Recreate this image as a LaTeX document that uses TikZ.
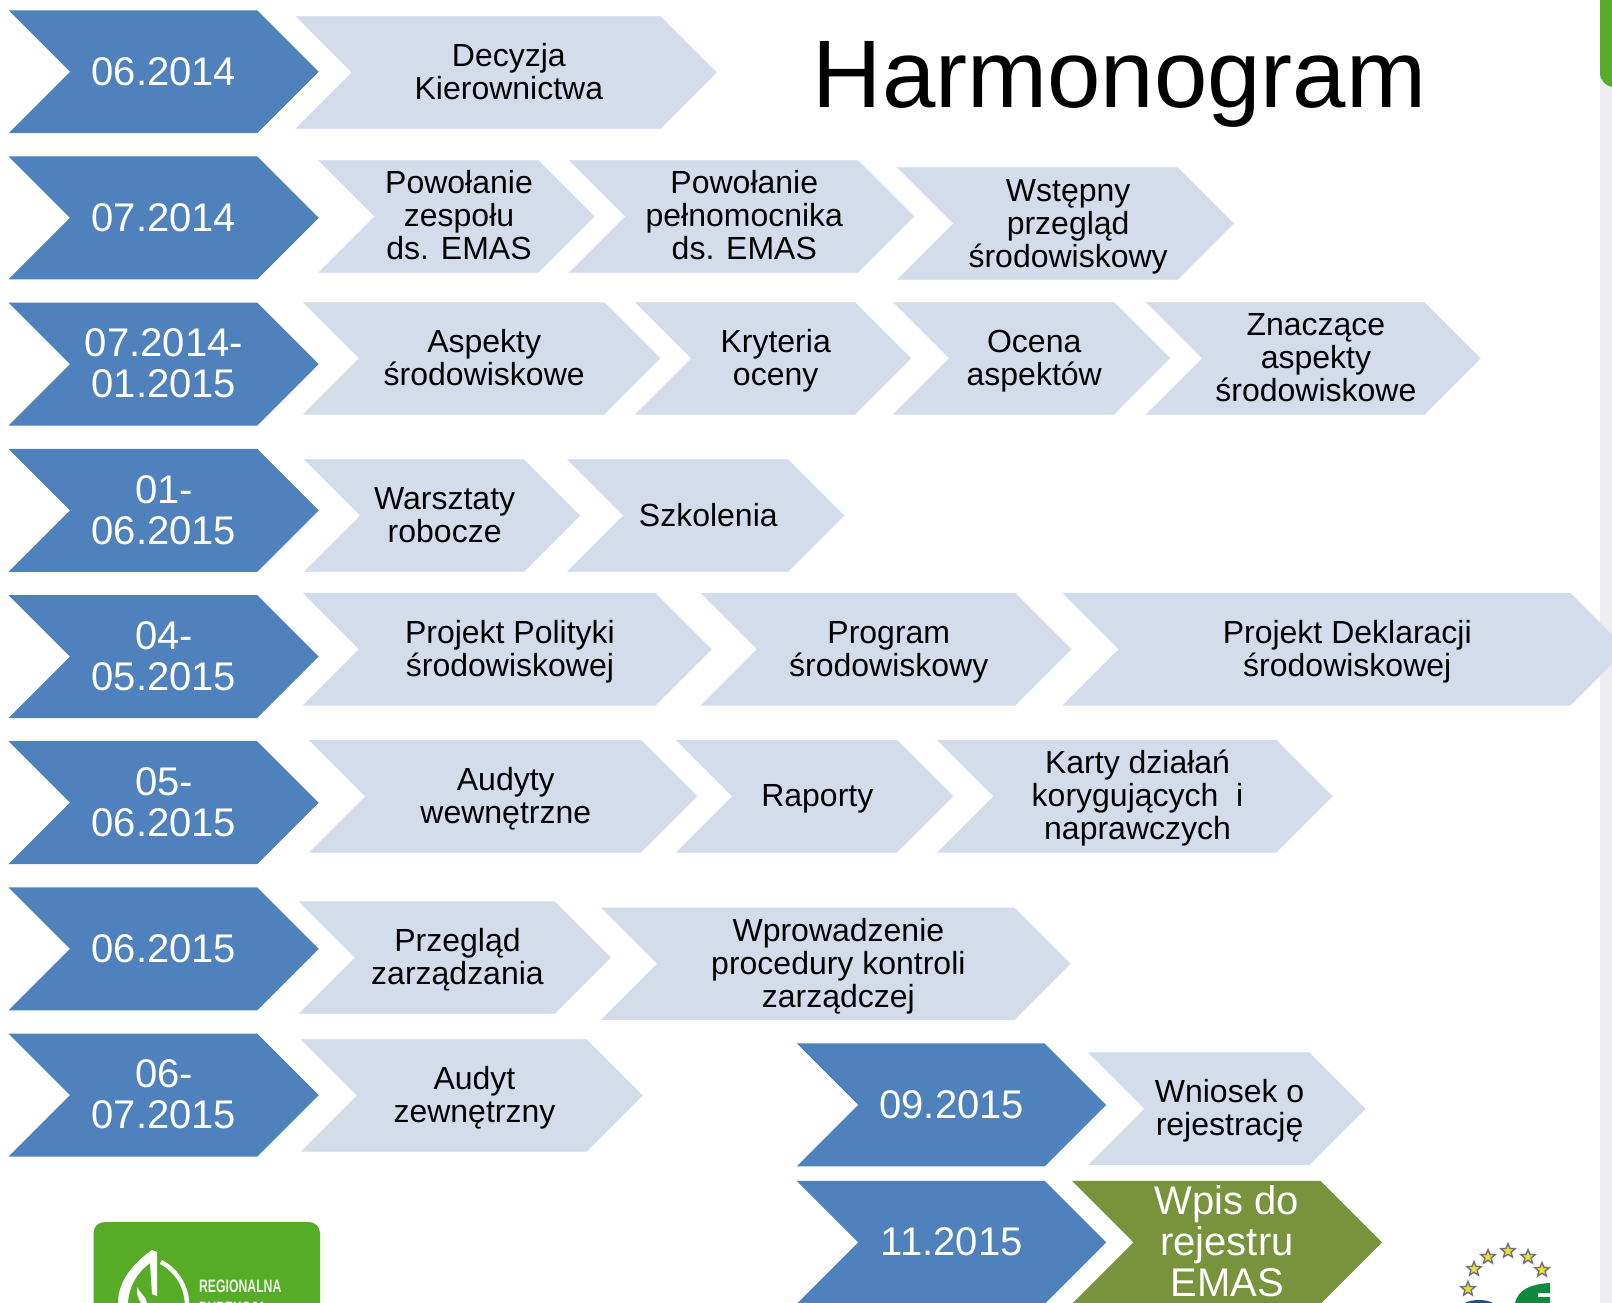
\documentclass[tikz,border=0pt]{standalone}
\usepackage{fontspec}
\setmainfont{Liberation Sans}
\usetikzlibrary{shapes.geometric}
\definecolor{bluec}{HTML}{4F81BD}
\definecolor{lightc}{HTML}{D4DBEA}
\definecolor{lightedge}{HTML}{D9E0EE}
\definecolor{greenc}{HTML}{77933C}
\definecolor{logogreen}{HTML}{56AB27}
\definecolor{stripc}{HTML}{EDEDF0}
\definecolor{starc}{HTML}{EDE32A}
\definecolor{stare}{HTML}{6F7080}
\definecolor{emasgreen}{HTML}{0F8A3C}
\definecolor{emasblue}{HTML}{1B4F9C}
\lineskiplimit=-100pt
\normallineskiplimit=-100pt
\newcommand{\chevstrut}{\vrule height .905em depth .212em width 0pt\relax}
\tikzset{
  bluebox/.style={fill=bluec,draw=none},
  greenbox/.style={fill=greenc,draw=none},
  lightbox/.style={fill=lightc,draw=lightedge,line width=.5pt,line join=miter},
  bigtext/.style={text=white,align=center,inner sep=0pt,font=\fontsize{40}{41}\selectfont},
  smalltext/.style={text=black,align=center,inner sep=0pt,font=\fontsize{32}{33}\selectfont},
  logotext/.style={anchor=base west,inner sep=0pt,text=white!88!logogreen,font=\fontsize{18}{18}\selectfont\bfseries,xscale=.68},
  starmark/.style={star,star points=5,star point ratio=2.3,minimum size=15pt,inner sep=0pt,fill=starc,draw=stare,line width=1.4pt},
}
% name, x1, x2, ytop, ybottom, shape style, text style, text offset, text
\newcommand{\chev}[9]{%
  \pgfmathsetmacro{\chevhh}{(#5-(#4))/2}%
  \pgfmathsetmacro{\chevcy}{(#5+#4)/2}%
  \pgfmathsetmacro{\chevty}{\chevcy-0.6}%
  \pgfmathsetmacro{\chevcx}{(#2+#3)/2+#8}%
  \pgfmathsetmacro{\chevsh}{#3-\chevhh}%
  \pgfmathsetmacro{\chevnt}{#2+\chevhh}%
  \pgfmathsetmacro{\chevyb}{#5}%
  \path[#6] (#2,#4) -- (\chevsh,#4) -- (#3,\chevcy) -- (\chevsh,\chevyb) -- (#2,\chevyb) -- (\chevnt,\chevcy) -- cycle;
  \node[#7] (#1) at (\chevcx,\chevty) {\chevstrut #9\chevstrut};
}
\newcommand{\datechev}[3]{\chev{#1}{8.3}{310}{#2}{#2+119.6}{bluebox}{bigtext}{0.3}{#3}}
\newcommand{\stepchev}[6]{\chev{#1}{#2}{#3}{#4}{#5}{lightbox}{smalltext}{2.5}{#6}}
\begin{document}
\begin{tikzpicture}[x=1pt,y=-1pt]
\useasboundingbox (0,0) rectangle (1612,1303);
\clip (0,0) rectangle (1612,1303);
\fill[white] (0,0) rectangle (1612,1303);
% right edge: next slide peeking in
\fill[stripc] (1600,60) rectangle (1612,1303);
\fill[logogreen,rounded corners=14pt] (1600,-30) rectangle (1640,87);
% bottom-left logo
\fill[logogreen,rounded corners=11pt] (93.5,1222) rectangle (320,1340);
\fill[white] (152,1250) .. controls (135,1262) and (118,1280) .. (118,1303) -- (128,1303)
   .. controls (129,1285) and (138,1272) .. (150,1263) -- (152,1294) -- (157,1296) -- (157,1252) -- cycle;
\draw[white,line width=4.5pt] (161,1262) .. controls (176,1270) and (186,1285) .. (187,1303);
\fill[white] (137,1287) .. controls (140,1293) and (146,1296) .. (147,1303) -- (141,1303) .. controls (137,1298) and (137,1292) .. (137,1287);
\node[logotext] (rdos1) at (199,1292) {REGIONALNA};
\node[logotext] (rdos2) at (199,1314) {DYREKCJA};
% bottom-right EMAS logo
\node[starmark] (s1) at (1468,1289) {};
\node[starmark] (s2) at (1474,1269) {};
\node[starmark] (s3) at (1488,1257) {};
\node[starmark] (s4) at (1508,1251) {};
\node[starmark] (s5) at (1528,1257) {};
\node[starmark] (s6) at (1542,1270) {};
\fill[emasgreen] (1515,1303) .. controls (1518,1290) and (1530,1284) .. (1550,1283) -- (1550,1293) -- (1538,1293) -- (1538,1297) -- (1550,1297) -- (1550,1303) -- cycle;
\fill[emasblue] (1465,1303) .. controls (1472,1299) and (1486,1299) .. (1493,1303) -- cycle;
% title
\begin{scope}[scale=1.02806]
\node[anchor=base,inner sep=0pt,text=black,font=\fontsize{96}{98}\selectfont] (title) at (1089,105) {Harmonogram};
% row 1
\datechev{d1}{10}{06.2014}
\stepchev{a1}{288}{697}{16}{125}{Decyzja\\Kierownictwa}
% row 2
\datechev{d2}{152.2}{07.2014}
\stepchev{a2}{310}{578}{156}{265}{Powołanie\\zespołu\\ds. EMAS}
\stepchev{b2}{554}{889}{156}{265}{Powołanie\\pełnomocnika\\ds. EMAS}
\stepchev{c2}{873}{1200}{163}{272}{Wstępny\\przegląd\\środowiskowy}
% row 3
\datechev{d3}{294.4}{07.2014-\\01.2015}
\stepchev{a3}{295}{642}{294}{403}{Aspekty\\środowiskowe}
\stepchev{b3}{618}{886}{294}{403}{Kryteria\\oceny}
\stepchev{c3}{869}{1138}{294}{403}{Ocena\\aspektów}
\stepchev{e3}{1115}{1440}{294}{403}{Znaczące\\aspekty\\środowiskowe}
% row 4
\datechev{d4}{436.6}{01-\\06.2015}
\stepchev{a4}{296}{564}{447}{556}{Warsztaty\\robocze}
\stepchev{b4}{552}{821}{447}{556}{Szkolenia}
% row 5
\datechev{d5}{578.8}{04-\\05.2015}
\stepchev{a5}{295}{692}{577}{686}{Projekt Polityki\\środowiskowej}
\stepchev{b5}{682}{1042}{577}{686}{Program\\środowiskowy}
\stepchev{c5}{1034}{1582}{577}{686}{Projekt Deklaracji\\środowiskowej}
% row 6
\datechev{d6}{721}{05-\\06.2015}
\stepchev{a6}{301}{678}{720}{829}{Audyty\\wewnętrzne}
\stepchev{b6}{658}{927}{720}{829}{Raporty}
\stepchev{c6}{912}{1296}{720}{829}{Karty działań\\korygujących\ \ i\\naprawczych}
% row 7
\datechev{d7}{863.2}{06.2015}
\stepchev{a7}{291}{594}{877}{986}{Przegląd\\zarządzania}
\stepchev{b7}{585}{1041}{883}{992}{Wprowadzenie\\procedury kontroli\\zarządczej}
% row 8
\datechev{d8}{1005.4}{06-\\07.2015}
\stepchev{a8}{293}{625}{1011}{1120}{Audyt\\zewnętrzny}
\chev{d9}{775}{1076}{1015}{1134.6}{bluebox}{bigtext}{0.3}{09.2015}
\stepchev{a9}{1059}{1328}{1024}{1133}{Wniosek o\\rejestrację}
% row 9
\chev{d10}{775}{1076}{1148.6}{1268.2}{bluebox}{bigtext}{0.3}{11.2015}
\chev{a10}{1042.7}{1344.3}{1148.6}{1268.2}{greenbox}{bigtext}{0}{Wpis do\\rejestru\\EMAS}
\end{scope}
\end{tikzpicture}
\end{document}
